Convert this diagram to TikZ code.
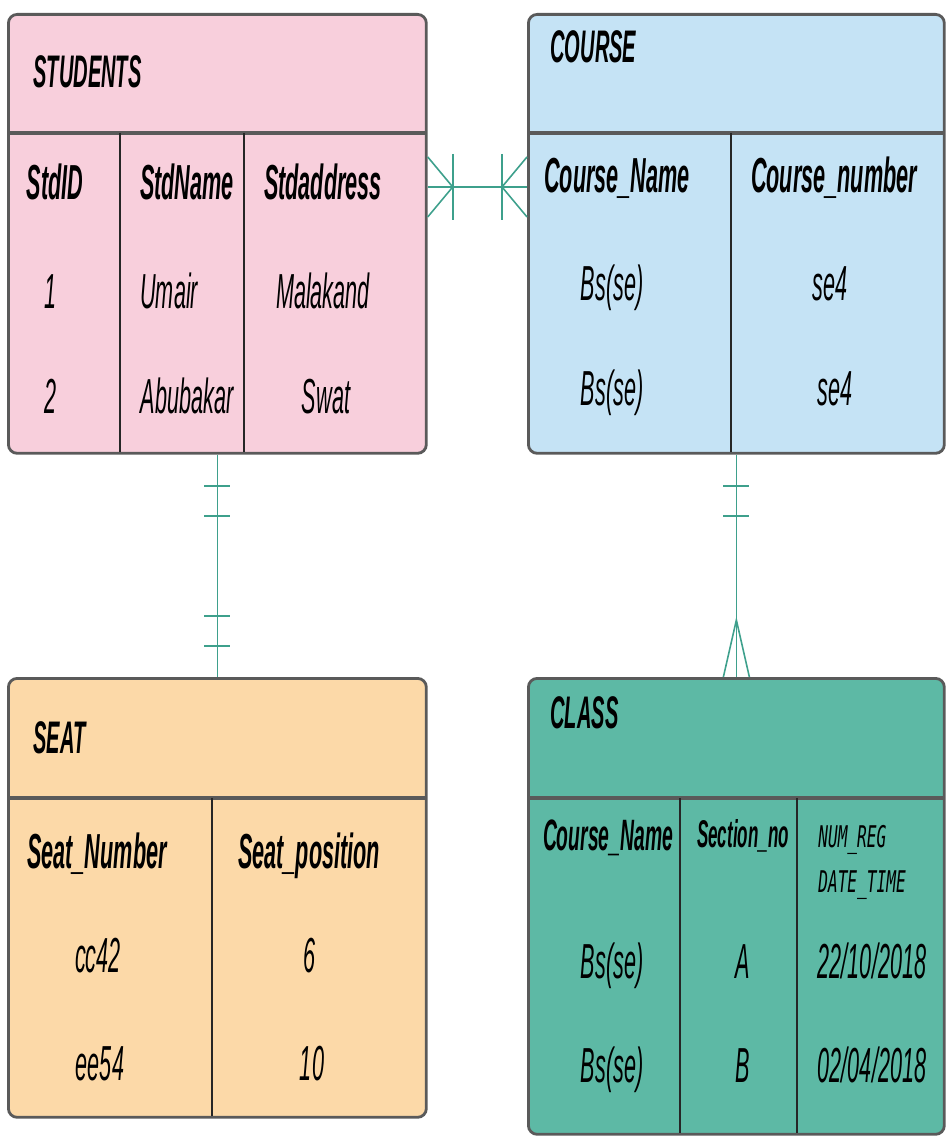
\documentclass[tikz,border=0pt]{standalone}
\usepackage{fontspec}
\setmainfont{Liberation Sans}[FakeStretch=0.44]
\newfontfamily\regfont{DejaVu Sans Mono}[FakeStretch=0.54]

\definecolor{stupink}{RGB}{248,207,220}
\definecolor{crsblue}{RGB}{197,227,245}
\definecolor{seatorange}{RGB}{252,217,168}
\definecolor{clsteal}{RGB}{93,185,165}
\definecolor{edgegray}{RGB}{90,90,90}
\definecolor{relteal}{RGB}{62,160,140}

\tikzstyle{tbl}  = [rectangle, rounded corners=5pt, draw=edgegray, line width=1.6pt, anchor=north west, inner sep=0pt]
\tikzstyle{ttl}  = [anchor=base west, inner sep=0pt, font=\fontsize{26}{28}\selectfont\bfseries\itshape]
\tikzstyle{hdr}  = [anchor=base, inner sep=0pt, font=\fontsize{28}{30}\selectfont\bfseries\itshape]
\tikzstyle{cel}  = [anchor=base, inner sep=0pt, font=\fontsize{28}{30}\selectfont\itshape]
\tikzstyle{divi} = [line width=2.4pt, draw=edgegray]
\tikzstyle{col}  = [line width=0.9pt, draw=black!85]
\tikzstyle{rel}  = [line width=0.9pt, draw=relteal]

\begin{document}
\begin{tikzpicture}[x=0.02cm, y=-0.02cm]
\useasboundingbox (0,0) rectangle (947,1142);

%% STUDENTS table
\node (stu) [tbl, fill=stupink, minimum width=8.36cm, minimum height=8.78cm] at (7,13) {};
\draw [divi] (7,133) -- (425,133);
\draw [col] (120,133) -- (120,452);
\draw [col] (244,133) -- (244,452);
\node (stu_ttl) [ttl] at (33,88) {STUDENTS};
\node (stu_h1) [hdr] at (55,200) {StdID};
\node (stu_h2) [hdr] at (187,200) {StdName};
\node (stu_h3) [hdr] at (323,200) {Stdaddress};
\node (stu_a1) [cel] at (51,308) {1};
\node (stu_b1) [cel, anchor=base west] at (140,308) {Umair};
\node (stu_c1) [cel] at (323,308) {Malakand};
\node (stu_a2) [cel] at (51,413) {2};
\node (stu_b2) [cel] at (187,413) {Abubakar};
\node (stu_c2) [cel] at (326,413) {Swat};

%% COURSE table
\node (crs) [tbl, fill=crsblue, minimum width=8.32cm, minimum height=8.78cm] at (527,13) {};
\draw [divi] (527,133) -- (943,133);
\draw [col] (731,133) -- (731,452);
\node (crs_ttl) [ttl] at (550,63) {COURSE};
\node (crs_h1) [hdr] at (617,193) {Course\_Name};
\node (crs_h2) [hdr] at (834,193) {Course\_number};
\node (crs_a1) [cel] at (612,300) {Bs(se)};
\node (crs_b1) [cel] at (830,300) {se4};
\node (crs_a2) [cel] at (612,405) {Bs(se)};
\node (crs_b2) [cel] at (835,405) {se4};

%% SEAT table
\node (seat) [tbl, fill=seatorange, minimum width=8.36cm, minimum height=8.78cm] at (7,677) {};
\draw [divi] (7,798) -- (425,798);
\draw [col] (212,798) -- (212,1116);
\node (seat_ttl) [ttl] at (33,753) {SEAT};
\node (seat_h1) [hdr] at (97,868) {Seat\_Number};
\node (seat_h2) [hdr] at (309,868) {Seat\_position};
\node (seat_a1) [cel] at (98,972) {cc42};
\node (seat_b1) [cel] at (310,972) {6};
\node (seat_a2) [cel] at (100,1080) {ee54};
\node (seat_b2) [cel] at (312,1080) {10};

%% CLASS table
\node (cls) [tbl, fill=clsteal, minimum width=8.32cm, minimum height=9.12cm] at (527,677) {};
\draw [divi] (527,798) -- (943,798);
\draw [col] (680,798) -- (680,1133);
\draw [col] (797,798) -- (797,1133);
\node (cls_ttl) [ttl] at (550,728) {CLASS};
\node (cls_h1) [hdr, font=\fontsize{25}{27}\selectfont\bfseries\itshape] at (608,850) {Course\_Name};
\node (cls_h2) [hdr, font=\fontsize{22}{24}\selectfont\bfseries\itshape] at (743,847) {Section\_no};
\node (cls_h3) [hdr, anchor=base west, font=\fontsize{17}{19}\selectfont\regfont\itshape] at (818,847) {NUM\_REG};
\node (cls_h4) [hdr, anchor=base west, font=\fontsize{17}{19}\selectfont\regfont\itshape] at (818,892) {DATE\_TIME};
\node (cls_a1) [cel] at (612,978) {Bs(se)};
\node (cls_b1) [cel] at (743,978) {A};
\node (cls_c1) [cel] at (872,978) {22/10/2018};
\node (cls_a2) [cel] at (612,1082) {Bs(se)};
\node (cls_b2) [cel] at (743,1082) {B};
\node (cls_c2) [cel] at (872,1082) {02/04/2018};

%% Relations
\coordinate (stu_r) at ([yshift=-3.48cm]stu.north east);
\coordinate (crs_l) at ([yshift=-3.48cm]crs.north west);
\draw [rel] (stu_r) -- (crs_l);
\draw [rel] (stu_r) ++(0,-30) -- ++(25,30) -- ++(-25,30);
\draw [rel] (stu_r) ++(25,-33) -- ++(0,66);
\draw [rel] (crs_l) ++(0,-30) -- ++(-25,30) -- ++(25,30);
\draw [rel] (crs_l) ++(-25,-33) -- ++(0,66);

\draw [rel] (stu.south) -- (seat.north);
\draw [rel] (stu.south) ++(-13,31) -- ++(26,0);
\draw [rel] (stu.south) ++(-13,61) -- ++(26,0);
\draw [rel] (seat.north) ++(-13,-61) -- ++(26,0);
\draw [rel] (seat.north) ++(-13,-31) -- ++(26,0);

\draw [rel] (crs.south) -- (cls.north);
\draw [rel] (crs.south) ++(-13,31) -- ++(26,0);
\draw [rel] (crs.south) ++(-13,61) -- ++(26,0);
\draw [rel] (cls.north) ++(-13,0) -- ++(13,-57) -- ++(13,57);
\end{tikzpicture}
\end{document}
